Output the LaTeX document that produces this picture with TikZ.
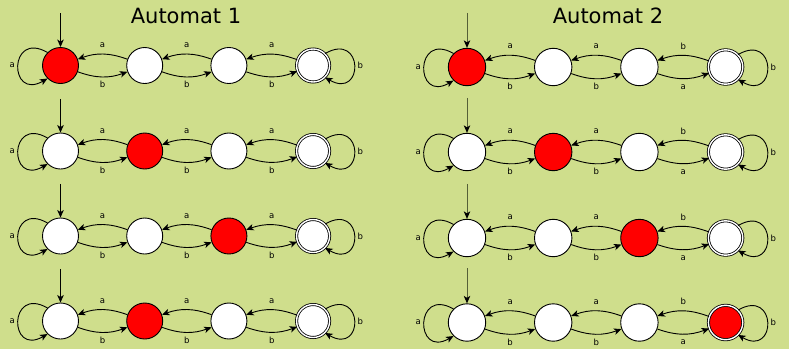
\documentclass[tikz,border=0pt]{standalone}
\usepackage{fontspec}
\setmainfont{DejaVu Sans}
\usetikzlibrary{arrows.meta}
\definecolor{bg}{RGB}{207,222,140}
\definecolor{initgray}{RGB}{85,95,55}
\begin{document}
\begin{tikzpicture}[x=1pt,y=1pt,
  st/.style={circle, draw=black, line width=0.9pt, inner sep=0pt, minimum size=\dd pt},
  acc/.style={circle, draw=black, line width=0.8pt, double=white, double distance=1.4pt, inner sep=0pt, minimum size=\dd*1pt-3pt},
  arr/.style={-{Stealth[length=7.5pt,width=6.5pt,inset=2pt]}, line width=0.9pt},
  arrI/.style={-{Stealth[length=7.5pt,width=6.5pt,inset=2pt,black]}, line width=1pt},
  lbl/.style={font=\fontsize{8.5}{8.5}\selectfont, inner sep=1pt, text height=6.2pt, text depth=0pt},
  lpl/.style={font=\fontsize{8.5}{8.5}\selectfont, inner sep=1pt},
  ttl/.style={font=\fontsize{21}{21}\selectfont, anchor=base, inner sep=0pt}]
\fill[bg] (0,0) rectangle (789,-349);
\useasboundingbox (0,0) rectangle (789,-349);
\node[ttl] (t1) at (186,-23) {Automat 1};
\node[ttl] (t2) at (608,-23) {Automat 2};
\foreach \p/\xo/\yo/\dx/\dd/\red/\ta/\tb/\tc/\ba/\bb/\bc/\ac in {
  La/60.5/65.5/84.2/36/1/a/a/a/b/b/b/black,
  Lb/60.5/151/84.2/36/2/a/a/a/b/b/b/black,
  Lc/60.5/236/84.2/36/3/a/a/a/b/b/b/black,
  Ld/60.5/321/84.2/36/2/a/a/a/b/b/b/black,
  Ra/467/67/86.2/37.4/1/a/a/b/b/b/a/initgray,
  Rb/467/152/86.2/37.4/2/a/a/b/b/b/a/initgray,
  Rc/467/238/86.2/37.4/3/a/a/b/b/b/a/initgray,
  Rd/467/322.5/86.2/37.4/4/a/a/b/b/b/a/initgray}{
  \foreach \i in {1,2,3,4}{
    \ifnum\i=\red\relax \def\fc{red}\else \def\fc{white}\fi
    \ifnum\i=4\relax
      \node[acc, fill=\fc] (\p s\i) at ({\xo+(\i-1)*\dx}, -\yo) {};
    \else
      \node[st, fill=\fc] (\p s\i) at ({\xo+(\i-1)*\dx}, -\yo) {};
    \fi
  }
  \coordinate (\p i) at (\xo, {-\yo+1.45*\dd});
  \draw[arrI, draw=\ac] (\p i) -- (\p s1);
  \draw[arr] (\p s2) to[bend right=20] node[lbl, above=5pt] {\ta} (\p s1);
  \draw[arr] (\p s3) to[bend right=20] node[lbl, above=5pt] {\tb} (\p s2);
  \draw[arr] (\p s4) to[bend right=20] node[lbl, above=5pt] {\tc} (\p s3);
  \draw[arr] (\p s1) to[bend right=20] node[lbl, below=3.3pt] {\ba} (\p s2);
  \draw[arr] (\p s2) to[bend right=20] node[lbl, below=3.3pt] {\bb} (\p s3);
  \draw[arr] (\p s3) to[bend right=20] node[lbl, below=3.3pt] {\bc} (\p s4);
  \draw[arr] (\p s1.135) .. controls +(150:45) and +(210:45) .. node[lpl, pos=0.5, left=2pt] {a} (\p s1.225);
  \draw[arr] (\p s4.45) .. controls +(30:45) and +(-30:45) .. node[lpl, pos=0.5, right=2pt] {b} (\p s4.-45);
}
\end{tikzpicture}
\end{document}
